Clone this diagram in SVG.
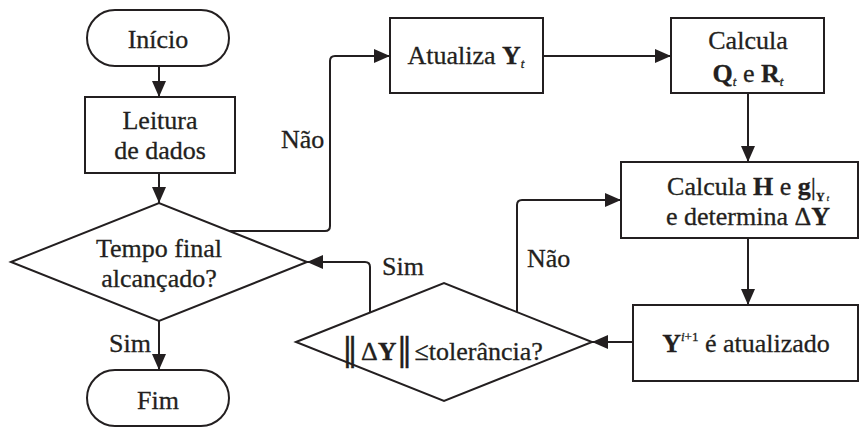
<svg xmlns="http://www.w3.org/2000/svg" width="863" height="428" viewBox="0 0 863 428" font-family="'Liberation Serif', 'Times New Roman', Tinos, 'DejaVu Serif', serif">
<defs>
<style>
.s{fill:#fff;stroke:#231f20;stroke-width:2}
.c{fill:none;stroke:#231f20;stroke-width:2;marker-end:url(#ah)}
text{font-size:26px;fill:#231f20;stroke:#231f20;stroke-width:0.3}
.m{text-anchor:middle}
.b{font-weight:bold}
.i{font-style:italic}
.n{font-family:"DejaVu Serif",serif;font-size:32px}
</style>
<marker id="ah" markerUnits="userSpaceOnUse" markerWidth="16" markerHeight="14" viewBox="0 0 16 14" refX="16" refY="7" orient="auto">
<path d="M0,0 L16,7 L0,14 Z" fill="#231f20"/>
</marker>
</defs>
<rect width="863" height="428" fill="#fff"/>
<g id="connectors">
<path class="c" d="M159,66 V97"/>
<path class="c" d="M159,173 V203"/>
<path class="c" d="M159,321 V370"/>
<path class="c" d="M230,231 H325 Q330,231 330,226 V61 Q330,56 335,56 H390"/>
<path class="c" d="M543,56 H671"/>
<path class="c" d="M748,93 V162"/>
<path class="c" d="M748,238 V305"/>
<path class="c" d="M633,342 H592"/>
<path class="c" d="M370,312.5 V267 Q370,262 365,262 H307"/>
<path class="c" d="M517,312 V205 Q517,200 522,200 H621"/>
<text x="281" y="148">Não</text>
<text x="382" y="275">Sim</text>
<text x="527" y="267">Não</text>
<text x="109" y="352">Sim</text>
</g>
<g id="inicio">
<rect class="s" x="87" y="10" width="142" height="56" rx="28"/>
<text class="m" x="158" y="48">Início</text>
</g>
<g id="leitura">
<rect class="s" x="85" y="97" width="150" height="76"/>
<text class="m" x="160" y="129">Leitura</text>
<text class="m" x="160" y="159">de dados</text>
</g>
<g id="tempo">
<polygon class="s" points="11,262 159,203 307,262 159,321"/>
<text class="m" x="159" y="257">Tempo final</text>
<text class="m" x="159" y="287">alcançado?</text>
</g>
<g id="fim">
<rect class="s" x="87" y="370" width="142" height="56" rx="28"/>
<text class="m" x="158" y="409">Fim</text>
</g>
<g id="atualiza">
<rect class="s" x="390" y="18" width="153" height="75"/>
<text class="m" x="466" y="64">Atualiza <tspan class="b">Y</tspan><tspan class="i" font-size="13" dy="4">t</tspan></text>
</g>
<g id="calculaQR">
<rect class="s" x="671" y="18" width="153" height="75"/>
<text class="m" x="748" y="49">Calcula</text>
<text class="m" x="748" y="82"><tspan class="b">Q</tspan><tspan class="i" font-size="13" dy="4">t</tspan><tspan dy="-4"> e </tspan><tspan class="b">R</tspan><tspan class="i" font-size="13" dy="4">t</tspan></text>
</g>
<g id="calculaH">
<rect class="s" x="621" y="162" width="237" height="76"/>
<text class="m" x="748" y="195">Calcula <tspan class="b">H</tspan> e <tspan class="b">g</tspan>|<tspan class="b" font-size="12" dy="6">Y</tspan><tspan class="i" font-size="8" dx="2">t</tspan></text>
<text class="m" x="748" y="225">e determina Δ<tspan class="b">Y</tspan></text>
</g>
<g id="atualizado">
<rect class="s" x="633" y="305" width="225" height="76"/>
<text class="m" x="746" y="352"><tspan class="b">Y</tspan><tspan font-size="13" dy="-11"><tspan class="i">i</tspan>+1</tspan><tspan dy="11"> é atualizado</tspan></text>
</g>
<g id="tolerancia">
<polygon class="s" points="296,342 444,283 592,342 444,401"/>
<text x="342" y="360"><tspan class="n">‖</tspan><tspan dx="3">Δ</tspan><tspan class="b">Y</tspan><tspan class="n">‖</tspan><tspan dx="2">≤tolerância?</tspan></text>
</g>
</svg>
